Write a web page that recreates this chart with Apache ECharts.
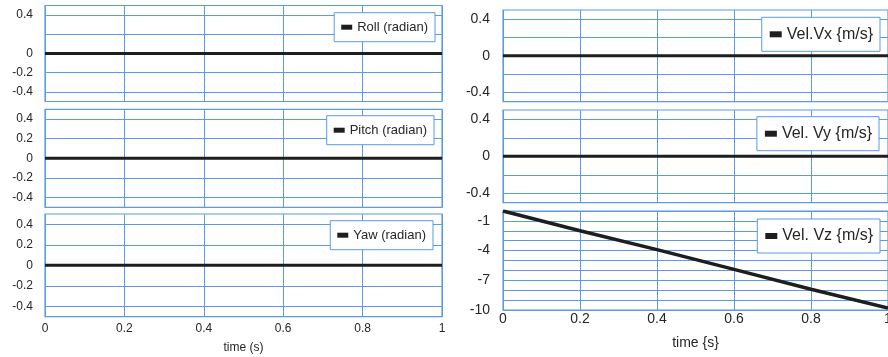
<!DOCTYPE html>
<html>
<head>
<meta charset="utf-8">
<title>Attitude and velocity</title>
<script src="https://cdn.jsdelivr.net/npm/echarts@6/dist/echarts.min.js"></script>
<style>body{margin:0;background:#fff;}</style>
</head>
<body>
<div id="main" style="width:888px;height:357px;"></div>
<script type="text/javascript">
// data
var time  = [0, 0.2, 0.4, 0.6, 0.8, 1];
var roll  = [0, 0, 0, 0, 0, 0];
var pitch = [0, 0, 0, 0, 0, 0];
var yaw   = [0, 0, 0, 0, 0, 0];
var velVx = [0, 0, 0, 0, 0, 0];
var velVy = [0, 0, 0, 0, 0, 0];
var velVz = [0, -2.0, -3.9, -5.9, -7.9, -9.8];

// tick labels that are printed on each y axis
var rollTicks  = [0.4, 0, -0.2, -0.4];
var angleTicks = [0.4, 0.2, 0, -0.2, -0.4];
var velTicks   = [0.4, 0, -0.4];
var vzTicks    = [-1, -4, -7, -10];
var timeTicks  = [0, 0.2, 0.4, 0.6, 0.8, 1];

var blue = '#5b9be6';
var ink = '#262626';

function pick(ticks) {
    return function (v) {
        for (var i = 0; i < ticks.length; i++) {
            if (Math.abs(v - ticks[i]) < 1e-6) return String(ticks[i]);
        }
        return '';
    };
}
function pairs(ys) {
    return time.map(function (t, i) { return [t, ys[i]]; });
}

// one entry per panel
var panels = [
    { name: 'Roll (radian)',  ys: roll,  ticks: rollTicks,  grid: [45, 5.5, 397, 96],    lg: [453, 12.7], big: false, bottom: false },
    { name: 'Pitch (radian)', ys: pitch, ticks: angleTicks, grid: [45, 109.3, 397, 98],  lg: [454, 115.7], big: false, bottom: false },
    { name: 'Yaw (radian)',   ys: yaw,   ticks: angleTicks, grid: [45, 214, 397, 102.7], lg: [455, 220.7], big: false, bottom: true, xname: 'time (s)' },
    { name: 'Vel.Vx {m/s}',   ys: velVx, ticks: velTicks,   grid: [503, 10, 385, 91.7],  lg: [8, 17.3], big: true, bottom: false },
    { name: 'Vel. Vy {m/s}',  ys: velVy, ticks: velTicks,   grid: [503, 110, 385, 92.7], lg: [9, 116.7], big: true, bottom: false },
    { name: 'Vel. Vz {m/s}',  ys: velVz, ticks: vzTicks,    grid: [503, 211, 385, 99],   lg: [8, 219], big: true, bottom: true, xname: 'time {s}', vz: true }
];

var grids = [], xAxes = [], yAxes = [], series = [], legends = [];
panels.forEach(function (p, i) {
    var fs = p.big ? 14 : 12;
    grids.push({
        left: p.grid[0], top: p.grid[1], width: p.grid[2], height: p.grid[3],
        outerBoundsMode: 'none', containLabel: false,
        show: true, borderColor: blue, borderWidth: 1.2, backgroundColor: '#fff'
    });
    xAxes.push({
        type: 'value', gridIndex: i, min: 0, max: 1, interval: 0.2,
        axisLine: { show: false }, axisTick: { show: false },
        splitLine: { show: true, lineStyle: { color: blue, width: 1 } },
        axisLabel: {
            show: p.bottom, color: ink, fontSize: fs, margin: p.big ? 2 : 6,
            fontFamily: 'Liberation Sans', formatter: pick(timeTicks)
        },
        name: p.bottom ? p.xname : '', nameLocation: 'middle', nameGap: p.big ? 26 : 25,
        nameTextStyle: { color: ink, fontSize: fs, fontFamily: 'Liberation Sans' }
    });
    yAxes.push({
        type: 'value', gridIndex: i,
        min: p.vz ? -10 : -0.5, max: p.vz ? 0 : 0.5, interval: p.vz ? 1 : 0.1,
        axisLine: { show: false }, axisTick: { show: false },
        splitLine: {
            show: true, showMinLine: true, showMaxLine: true,
            lineStyle: { color: p.vz ? blue : ['transparent', blue], width: 1 }
        },
        axisLabel: {
            color: ink, fontSize: fs, margin: p.big ? 13 : 12, showMinLabel: true, showMaxLabel: true,
            fontFamily: 'Liberation Sans', formatter: pick(p.ticks)
        }
    });
    series.push({
        name: p.name, type: 'line', xAxisIndex: i, yAxisIndex: i,
        data: pairs(p.ys), showSymbol: false, symbol: 'none', silent: true,
        lineStyle: { color: '#1e1e1e', width: p.vz ? 3.5 : 3 },
        itemStyle: { color: '#1e1e1e' }, z: 5
    });
    legends.push({
        data: [p.name], right: p.lg[0], top: p.lg[1], icon: 'rect',
        itemWidth: p.big ? 12 : 11, itemHeight: p.big ? 6 : 5, selectedMode: false,
        padding: p.big ? [9, 7, 9, 8] : [8, 7, 8, 7],
        borderColor: blue, borderWidth: 1, backgroundColor: '#fff',
        textStyle: { color: ink, fontSize: p.big ? 16 : 13, fontFamily: 'Liberation Sans' }
    });
});

var myChart = echarts.init(document.getElementById('main'));
myChart.setOption({
    animation: false,
    grid: grids,
    xAxis: xAxes,
    yAxis: yAxes,
    legend: legends,
    series: series
});
</script>
</body>
</html>
